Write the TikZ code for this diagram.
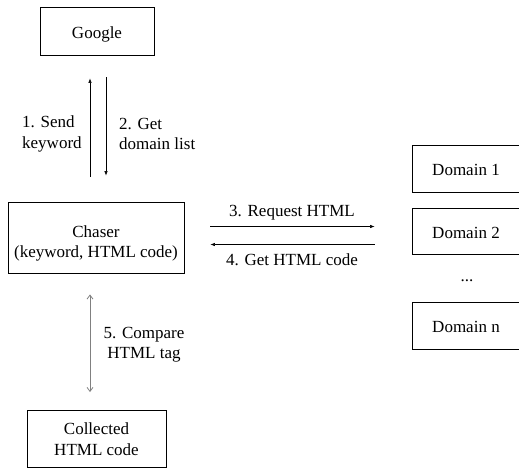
\documentclass[tikz,border=0pt]{standalone}
\usepackage{fontspec}
\setmainfont{Liberation Serif}
\usetikzlibrary{arrows.meta}
\tikzset{
  box/.style={draw, line width=0.9pt, minimum width=#1, inner sep=0pt},
  lbl/.style={font=\fontsize{17}{20.5}\selectfont, inner sep=0pt},
  oneline/.style={text height=15pt, text depth=0.5pt},
  arr/.style={-{Latex[length=4.5pt,width=3.5pt]}, line width=0.6pt},
  both/.style={{Straight Barb[length=4pt,width=6pt]}-{Straight Barb[length=4pt,width=6pt]}, line width=0.8pt, gray}
}
\begin{document}
\begin{tikzpicture}[x=1pt,y=-1pt]
\useasboundingbox (0,0) rectangle (519,468);
% boxes
\node[box=114pt, minimum height=48pt, lbl, oneline] (google) at (97,31) {Google};
\node[box=176pt, minimum height=71pt, lbl, align=center] (chaser) at (96,237.5) {\rule{0pt}{24pt}Chaser\\(keyword, HTML code)};
\node[box=139pt, minimum height=57pt, lbl, align=center] (collected) at (96.5,439) {Collected\\HTML code};
\node[box=108pt, minimum height=47pt, lbl, oneline] (dom1) at (466,168.5) {Domain 1};
\node[box=108pt, minimum height=46pt, lbl, oneline] (dom2) at (466,231) {Domain 2};
\node[box=108pt, minimum height=47pt, lbl, oneline] (domn) at (466,325.5) {Domain n};
\node[lbl] (dots) at (467,281) {...};

% Chaser <-> Google
\draw[arr, shorten <=25pt, shorten >=23pt] ([xshift=-6pt]chaser.north) -- ([xshift=-6pt]chaser.north |- google.south);
\draw[arr, shorten <=22pt, shorten >=26pt] ([xshift=10pt]chaser.north |- google.south) -- ([xshift=10pt]chaser.north);
\node[lbl, align=left, anchor=west] (send) at (22,134) {1. Send\\keyword};
\node[lbl, align=left, anchor=west] (getlist) at (119,134) {2. Get\\domain list};

% Chaser <-> Domains
\draw[arr, shorten <=26pt, shorten >=37pt] ([yshift=11pt]chaser.east) -- ([yshift=11pt]chaser.east -| dom2.west);
\draw[arr, shorten <=37pt, shorten >=26pt] ([yshift=-7pt]chaser.east -| dom2.west) -- ([yshift=-7pt]chaser.east);
\node[lbl] (req) at (292,213) {3. Request HTML};
\node[lbl] (gethtml) at (292,260) {4. Get HTML code};

% Chaser <-> Collected
\draw[both, shorten <=21pt, shorten >=18pt] ([xshift=-6pt]chaser.south) -- ([xshift=-6pt]chaser.south |- collected.north);
\node[lbl, align=center] (cmp) at (144,344.5) {5. Compare\\HTML tag};
\end{tikzpicture}
\end{document}
